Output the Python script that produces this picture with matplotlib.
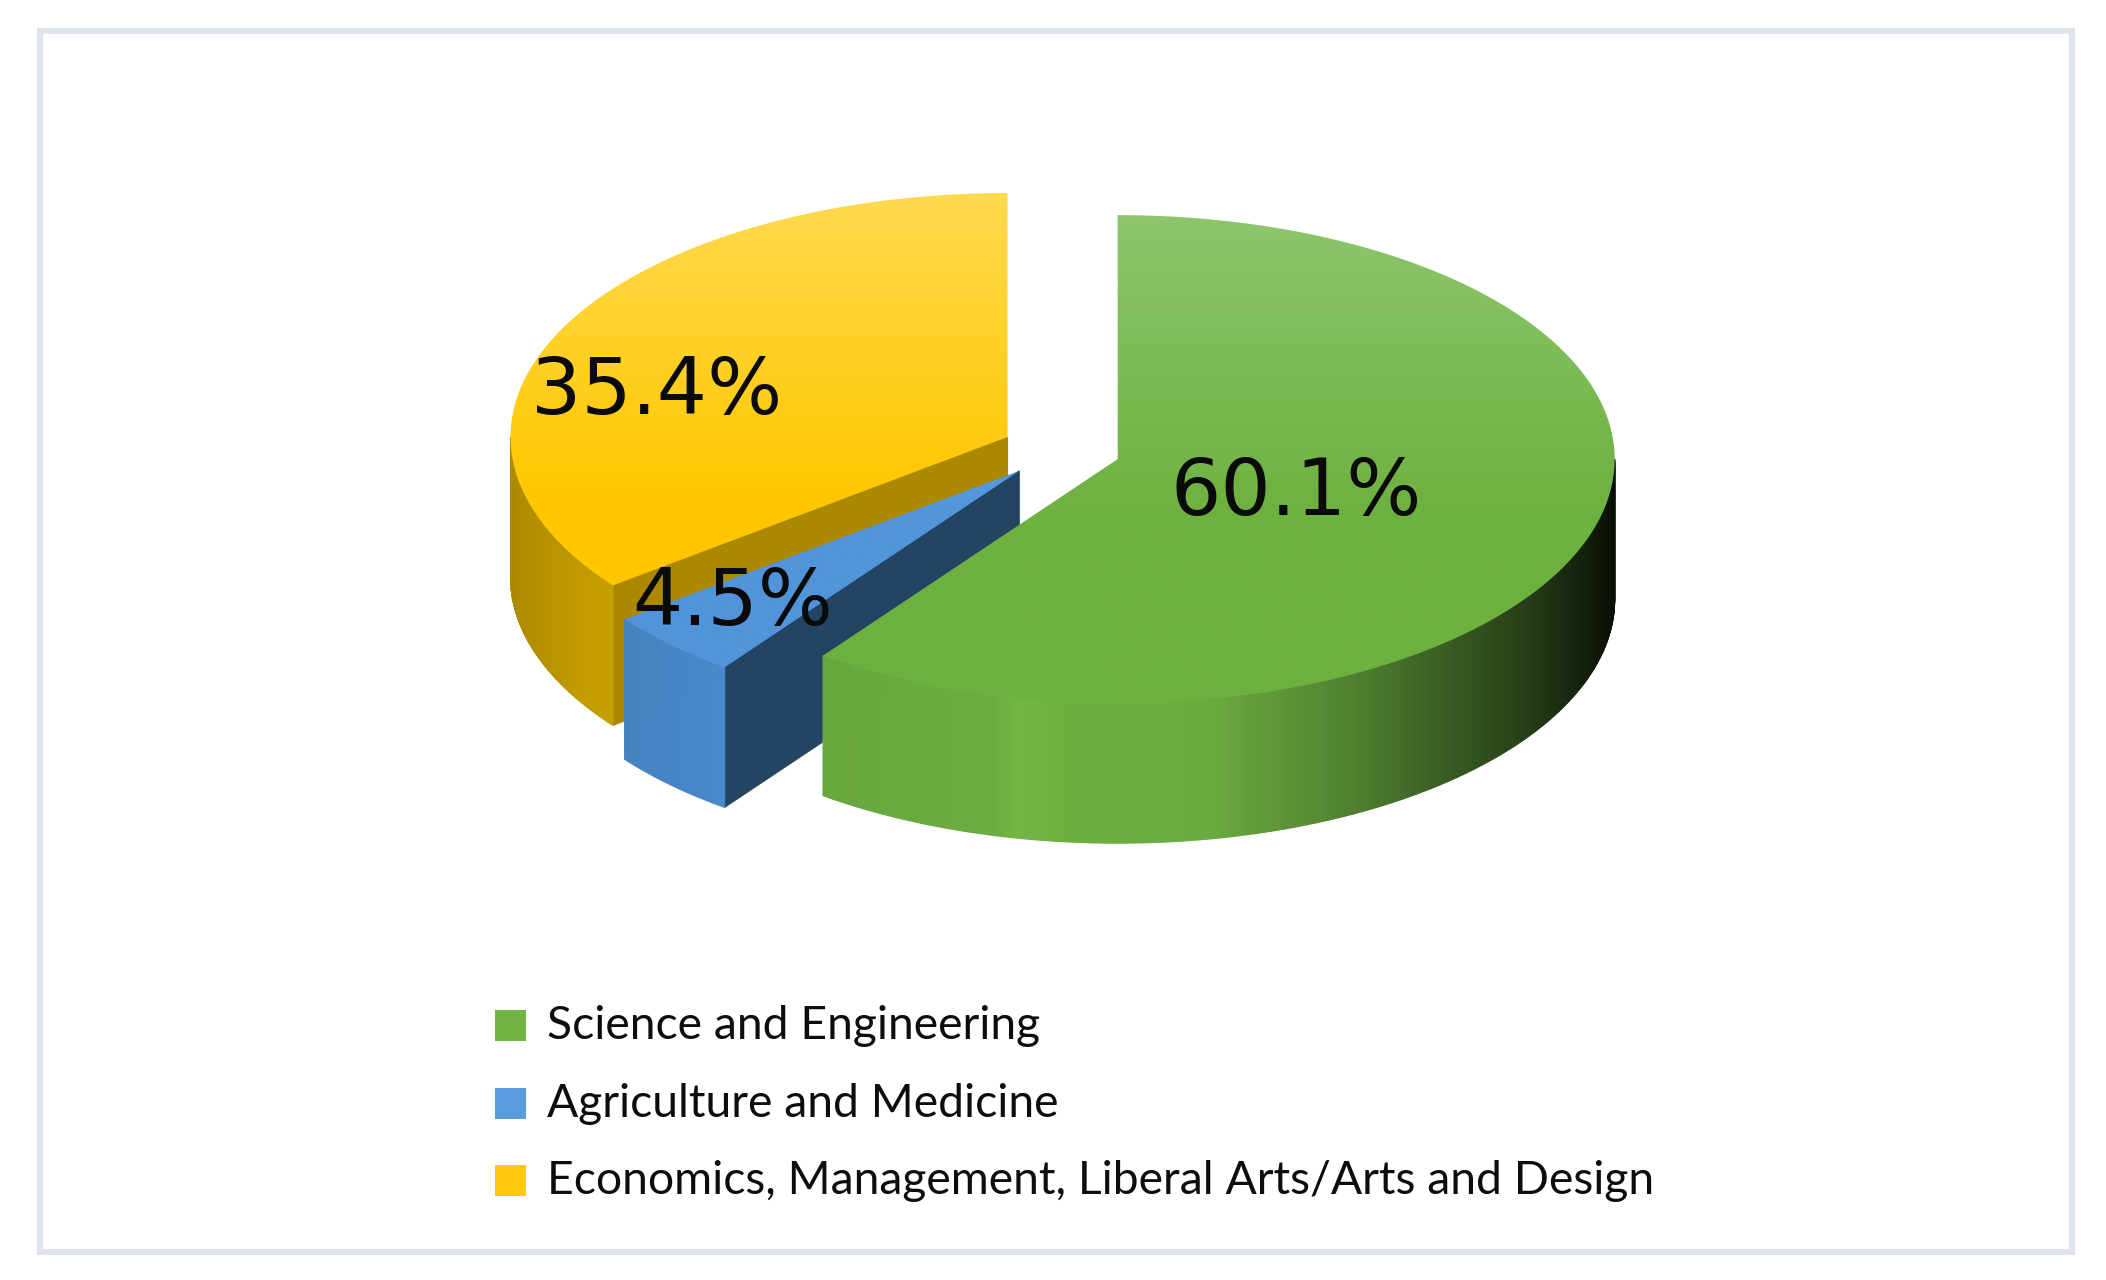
import numpy as np
import matplotlib
matplotlib.use("Agg")
import matplotlib.pyplot as plt
from matplotlib.patches import Polygon, Rectangle
from matplotlib.collections import PolyCollection
from matplotlib.colors import to_rgb

# ---------------- data ----------------
categories = ["Science and Engineering",
              "Agriculture and Medicine",
              "Economics, Management, Liberal Arts/Arts and Design"]
shares = [60.1, 4.5, 35.4]
pct_labels = ["60.1%", "4.5%", "35.4%"]

# ---------------- style ----------------
top_light = ["#8dc66d", "#6cb0ee", "#ffda50"]
top_dark = ["#6db13f", "#5194da", "#ffc700"]
wall_base = ["#72b644", "#4f95dc", "#e2b500"]
face_col = ["#4f8a2e", "#244464", "#ac8800"]
legend_cols = ["#71b445", "#5a9ddf", "#ffc90d"]
label_pos = [(1296, 493), (733, 603), (657, 392)]
draw_order = [2, 1, 0]

W, Hpx = 2106, 1280
fig = plt.figure(figsize=(W / 100, Hpx / 100), dpi=100)
ax = fig.add_axes([0, 0, 1, 1])
ax.set_xlim(0, W)
ax.set_ylim(Hpx, 0)
ax.axis("off")

# frame
ax.add_patch(Rectangle((40, 31), 2032, 1221, fill=False,
                       edgecolor="#dfe4ec", linewidth=4.3, zorder=0))

CX, CY = 1061, 450
RX, RY = 497, 244
H = 140
EXPL = 0.12

sweeps = np.array(shares) / np.sum(shares) * 360.0
hi = 90.0 - np.concatenate([[0.0], np.cumsum(sweeps)[:-1]])
lo = hi - sweeps

u_knots = [-1.0, -0.85, -0.6, -0.25, -0.2, -0.12, 0.18, 0.48, 0.83, 0.97, 1.0]
f_knots = [0.76, 0.86, 0.92, 0.95, 1.0, 0.96, 0.94, 0.70, 0.33, 0.13, 0.08]


def pt(vx, vy, th, dy=0.0):
    t = np.radians(th)
    return (vx + RX * np.cos(t), vy - RY * np.sin(t) + dy)


z = 1
for i in draw_order:
    mid = np.radians((lo[i] + hi[i]) / 2)
    vx = CX + EXPL * RX * np.cos(mid)
    vy = CY - EXPL * RY * np.sin(mid)

    # radial faces
    for a, sign in ((lo[i], -1), (hi[i], 1)):
        nrm = np.radians(a + sign * 90)
        if -np.sin(nrm) > 0.05:  # faces the viewer
            p = pt(vx, vy, a)
            poly = [(vx, vy), p, (p[0], p[1] + H), (vx, vy + H)]
            ax.add_patch(Polygon(poly, closed=True, facecolor=face_col[i],
                                 edgecolor=face_col[i], linewidth=0.8, zorder=z))
            z += 1

    # outer wall (front half)
    segs = []
    for k in (-1, 0, 1):
        a0 = max(lo[i], -180 + 360 * k)
        a1 = min(hi[i], 360 * k)
        if a1 > a0:
            segs.append((a0, a1))
    base = np.array(to_rgb(wall_base[i]))
    for a0, a1 in segs:
        n = max(int((a1 - a0) * 3), 4)
        ths = np.linspace(a0, a1, n + 1)
        polys, cols = [], []
        for t0, t1 in zip(ths[:-1], ths[1:]):
            p0 = pt(vx, vy, t0)
            p1 = pt(vx, vy, t1)
            polys.append([p0, p1, (p1[0], p1[1] + H), (p0[0], p0[1] + H)])
            u = np.cos(np.radians((t0 + t1) / 2))
            f = np.interp(u, u_knots, f_knots)
            cols.append(np.clip(base * f, 0, 1))
        pc = PolyCollection(polys, facecolors=cols, edgecolors=cols,
                            linewidths=0.8, zorder=z)
        ax.add_collection(pc)
        z += 1

    # top surface with vertical gradient
    ths = np.linspace(lo[i], hi[i], 300)
    top = [(vx, vy)] + [pt(vx, vy, t) for t in ths]
    poly = Polygon(top, closed=True, facecolor="none", edgecolor="none", zorder=z)
    ax.add_patch(poly)
    c1 = np.array(to_rgb(top_light[i]))
    c2 = np.array(to_rgb(top_dark[i]))
    g = np.linspace(0, 1, 256)[:, None]
    g = np.clip(g * 1.6, 0, 1)
    img = (c1[None, :] * (1 - g) + c2[None, :] * g)[:, None, :]
    im = ax.imshow(img, extent=(vx - RX - 2, vx + RX + 2, vy + RY + 2, vy - RY - 2),
                   origin="upper", aspect="auto", interpolation="bilinear", zorder=z)
    im.set_clip_path(poly)
    z += 1

ax.set_xlim(0, W)
ax.set_ylim(Hpx, 0)

# percentage labels
for i in range(3):
    ax.text(label_pos[i][0], label_pos[i][1], pct_labels[i], fontsize=57,
            family="DejaVu Sans", color="#0a0a0a", ha="center", va="center",
            zorder=z + 5)

# legend
fig.canvas.draw()
renderer = fig.canvas.get_renderer()
row_y = [1026, 1104, 1181]
target_w = 1111
fs = 34
for i in range(3):
    ax.add_patch(Rectangle((495, row_y[i] - 16), 31, 31, facecolor=legend_cols[i],
                           edgecolor="none", zorder=z + 5))
texts = []
for i in range(3):
    t = ax.text(547, row_y[i], categories[i], fontsize=fs, family=["Lato", "DejaVu Sans"],
                color="#0d0d0d", ha="left", va="center", zorder=z + 5)
    texts.append(t)
bb = texts[2].get_window_extent(renderer=renderer)
scale = target_w / bb.width
for t in texts:
    t.set_fontsize(fs * scale)

fig.savefig("out.png", dpi=100, facecolor="white")
